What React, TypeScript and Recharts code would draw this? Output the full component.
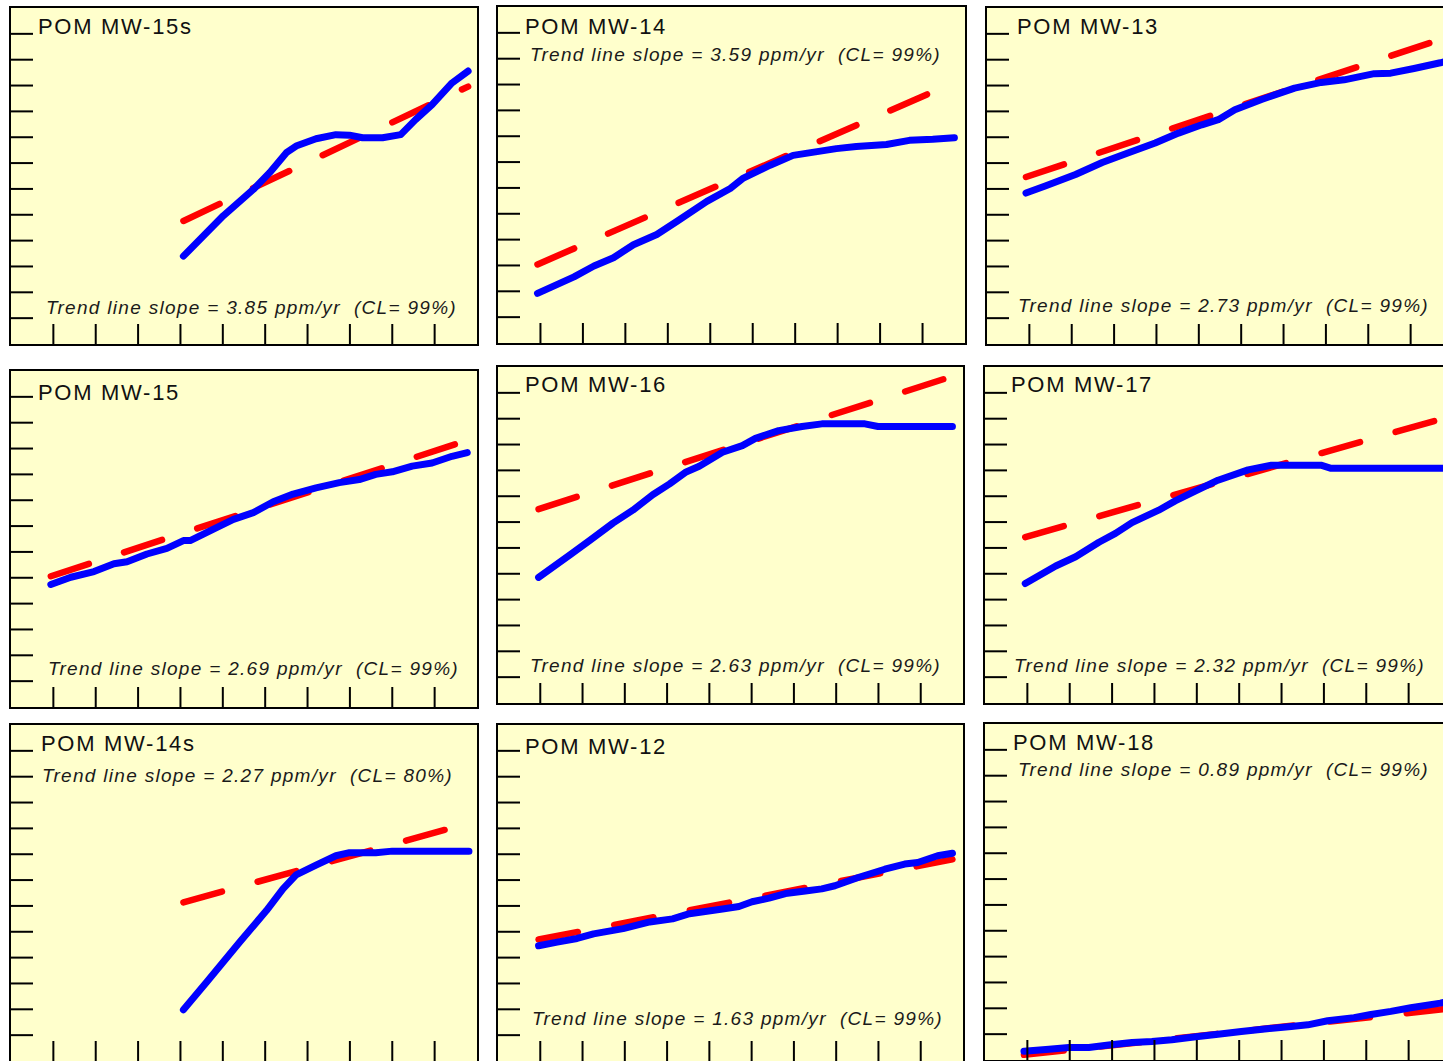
import React from 'react'
import { LineChart, Line, XAxis, YAxis } from 'recharts'

// x = years from start of record, y = ppm
const xTicks = [1, 2, 3, 4, 5, 6, 7, 8, 9, 10]
const yTicks = [5, 10, 15, 20, 25, 30, 35, 40, 45, 50, 55, 60]

const mw15s = [[4.07, 17.0], [5.01, 24.8], [5.72, 29.9], [6.11, 33.2], [6.5, 37.0], [6.73, 38.3], [7.2, 39.7], [7.67, 40.5], [7.99, 40.4], [8.3, 39.9], [8.77, 39.9], [9.2, 40.5], [9.55, 43.4], [9.94, 46.3], [10.41, 50.5], [10.79, 52.8]]
const mw15sTrend = [[4.07, 23.8], [10.79, 49.8]]

const mw14 = [[0.93, 9.6], [1.79, 12.8], [2.26, 14.9], [2.72, 16.5], [3.19, 19.0], [3.74, 21.0], [4.21, 23.5], [4.92, 27.4], [5.47, 29.9], [5.78, 31.9], [6.41, 34.4], [6.95, 36.3], [7.97, 37.6], [8.44, 38.0], [9.15, 38.4], [9.69, 39.2], [10.24, 39.4], [10.75, 39.7]]
const mw14Trend = [[0.93, 15.2], [10.75, 50.4]]

const mw13 = [[0.92, 29.2], [1.39, 30.6], [2.09, 32.8], [2.72, 35.1], [3.34, 37.0], [3.97, 38.9], [4.52, 40.8], [5.07, 42.4], [5.46, 43.4], [5.85, 45.3], [6.48, 47.3], [7.26, 49.5], [7.89, 50.6], [8.43, 51.1], [9.14, 52.3], [9.53, 52.4], [10.08, 53.3], [10.7, 54.4], [10.8, 54.6]]
const mw13Trend = [[0.92, 32.3], [10.8, 59.2]]

const mw15 = [[0.94, 23.7], [1.41, 25.1], [1.96, 26.2], [2.43, 27.7], [2.74, 28.1], [3.21, 29.6], [3.68, 30.7], [4.07, 32.2], [4.23, 32.2], [4.78, 34.4], [5.25, 36.3], [5.72, 37.6], [6.19, 39.7], [6.66, 41.2], [7.2, 42.4], [7.75, 43.4], [8.22, 44.0], [8.61, 45.0], [9.0, 45.5], [9.47, 46.6], [9.94, 47.2], [10.41, 48.5], [10.77, 49.2]]
const mw15Trend = [[0.94, 25.3], [10.77, 51.6]]

const mw16 = [[0.96, 24.3], [1.71, 28.7], [2.18, 31.5], [2.72, 34.8], [3.19, 37.3], [3.66, 40.3], [4.06, 42.4], [4.45, 44.7], [4.76, 45.8], [5.31, 48.5], [5.78, 49.8], [6.09, 51.2], [6.64, 52.7], [7.19, 53.5], [7.66, 54.0], [8.68, 54.0], [8.99, 53.5], [10.0, 53.5], [10.75, 53.5]]
const mw16Trend = [[0.96, 37.5], [10.75, 63.2]]

const mw17 = [[0.95, 23.1], [1.67, 26.5], [2.14, 28.3], [2.69, 31.1], [3.08, 32.8], [3.47, 34.9], [4.1, 37.3], [4.49, 39.1], [4.96, 41.0], [5.5, 43.1], [6.21, 45.1], [6.76, 46.0], [7.93, 46.0], [8.17, 45.4], [10.71, 45.4], [10.8, 45.4]]
const mw17Trend = [[0.95, 32.1], [10.8, 55.0]]

const mw14s = [[4.07, 9.9], [4.62, 15.3], [5.4, 23.0], [6.03, 29.1], [6.42, 33.3], [6.73, 36.0], [7.2, 37.9], [7.67, 39.7], [7.99, 40.3], [8.61, 40.3], [9.0, 40.6], [10.81, 40.6]]
const mw14sTrend = [[4.07, 30.7], [10.81, 46.0]]

const mw12 = [[0.96, 22.3], [1.4, 23.0], [1.87, 23.7], [2.26, 24.6], [2.96, 25.6], [3.59, 26.9], [4.13, 27.5], [4.53, 28.5], [5.31, 29.4], [5.7, 29.9], [6.01, 30.8], [6.41, 31.5], [6.8, 32.4], [7.27, 32.9], [7.66, 33.3], [7.97, 33.9], [8.52, 35.5], [9.15, 37.1], [9.62, 38.1], [9.93, 38.4], [10.4, 39.7], [10.75, 40.2]]
const mw12Trend = [[0.96, 23.5], [10.75, 39.0]]

const mw18 = [[0.92, 1.7], [1.51, 2.1], [1.98, 2.4], [2.45, 2.4], [2.92, 2.9], [3.47, 3.4], [3.94, 3.6], [4.41, 3.9], [4.88, 4.4], [5.5, 5.0], [6.05, 5.5], [6.6, 6.0], [7.23, 6.5], [7.62, 6.8], [8.09, 7.6], [8.71, 8.2], [9.11, 8.8], [9.58, 9.4], [10.05, 10.1], [10.75, 11.0], [10.8, 11.1]]
const mw18Trend = [[0.92, 1.0], [10.8, 9.8]]

const panels = [
  { name: 'POM MW-15s', data: mw15s, trend: mw15sTrend, slope: '3.85', cl: '99%', note: 'bottom' },
  { name: 'POM MW-14', data: mw14, trend: mw14Trend, slope: '3.59', cl: '99%', note: 'top' },
  { name: 'POM MW-13', data: mw13, trend: mw13Trend, slope: '2.73', cl: '99%', note: 'bottom' },
  { name: 'POM MW-15', data: mw15, trend: mw15Trend, slope: '2.69', cl: '99%', note: 'bottom' },
  { name: 'POM MW-16', data: mw16, trend: mw16Trend, slope: '2.63', cl: '99%', note: 'bottom' },
  { name: 'POM MW-17', data: mw17, trend: mw17Trend, slope: '2.32', cl: '99%', note: 'bottom' },
  { name: 'POM MW-14s', data: mw14s, trend: mw14sTrend, slope: '2.27', cl: '80%', note: 'top' },
  { name: 'POM MW-12', data: mw12, trend: mw12Trend, slope: '1.63', cl: '99%', note: 'bottom' },
  { name: 'POM MW-18', data: mw18, trend: mw18Trend, slope: '0.89', cl: '99%', note: 'top' },
]

// box position on the page, plus where the two texts sit inside it
const boxes = [
  { left: 9, top: 6, width: 470, titleX: 28, titleY: 27, noteX: 36, noteY: 307 },
  { left: 496, top: 5, width: 471, titleX: 28, titleY: 28, noteX: 33, noteY: 55 },
  { left: 985, top: 6, width: 470, titleX: 31, titleY: 27, noteX: 32, noteY: 305 },
  { left: 9, top: 369, width: 470, titleX: 28, titleY: 30, noteX: 38, noteY: 305 },
  { left: 496, top: 365, width: 469, titleX: 28, titleY: 26, noteX: 33, noteY: 306 },
  { left: 983, top: 365, width: 470, titleX: 27, titleY: 26, noteX: 30, noteY: 306 },
  { left: 9, top: 723, width: 470, titleX: 31, titleY: 27, noteX: 32, noteY: 58 },
  { left: 496, top: 723, width: 469, titleX: 28, titleY: 30, noteX: 35, noteY: 301 },
  { left: 983, top: 722, width: 470, titleX: 29, titleY: 27, noteX: 34, noteY: 53 },
]

const H = 340
const font = "'Liberation Sans', Arial, Helvetica, sans-serif"
const tickStyle = { stroke: '#000', strokeWidth: 2 }

function Panel({ p, b }: { p: typeof panels[number]; b: typeof boxes[number] }) {
  const pts = p.data.map(([yr, ppm]) => ({ yr, ppm }))
  const trend = p.trend.map(([yr, ppm]) => ({ yr, ppm }))
  const w = b.width - 4
  const h = H - 4
  return (
    <div style={{ position: 'absolute', left: b.left, top: b.top, width: b.width, height: H, boxSizing: 'border-box', border: '2px solid #000', background: '#FFFFCC' }}>
      <LineChart width={w} height={h} margin={{ top: 0, right: 0, bottom: 0, left: 0 }}>
        <XAxis type="number" dataKey="yr" domain={[0, 11]} ticks={xTicks} mirror tickSize={20} axisLine={false} tickLine={tickStyle} tickFormatter={() => ''} />
        <YAxis type="number" dataKey="ppm" domain={[0, 65]} ticks={yTicks} mirror tickSize={22} axisLine={false} tickLine={tickStyle} tickFormatter={() => ''} />
        <Line data={trend} dataKey="ppm" stroke="#FF0000" strokeWidth={6.5} strokeDasharray="40 37" strokeLinecap="round" dot={false} activeDot={false} isAnimationActive={false} />
        <Line data={pts} dataKey="ppm" stroke="#0000FF" strokeWidth={7} strokeLinecap="round" strokeLinejoin="round" dot={false} activeDot={false} isAnimationActive={false} />
      </LineChart>
      <svg width={w} height={h} style={{ position: 'absolute', left: 0, top: 0, pointerEvents: 'none' }}>
        <text x={b.titleX - 1} y={b.titleY - 1} fontFamily={font} fontSize={22} letterSpacing={1.7} fill="#111">{p.name}</text>
        <text x={b.noteX - 1} y={b.noteY - 1} fontFamily={font} fontSize={19} fontStyle="italic" letterSpacing={1.3} fill="#1a1a1a" style={{ whiteSpace: 'pre' }}>
          {`Trend line slope = ${p.slope} ppm/yr  (CL= ${p.cl})`}
        </text>
      </svg>
    </div>
  )
}

export default function App() {
  return (
    <div style={{ position: 'fixed', left: 0, top: 0, width: 1443, height: 1061, overflow: 'hidden', background: '#fff' }}>
      {panels.map((p, i) => <Panel key={p.name} p={p} b={boxes[i]} />)}
    </div>
  )
}
